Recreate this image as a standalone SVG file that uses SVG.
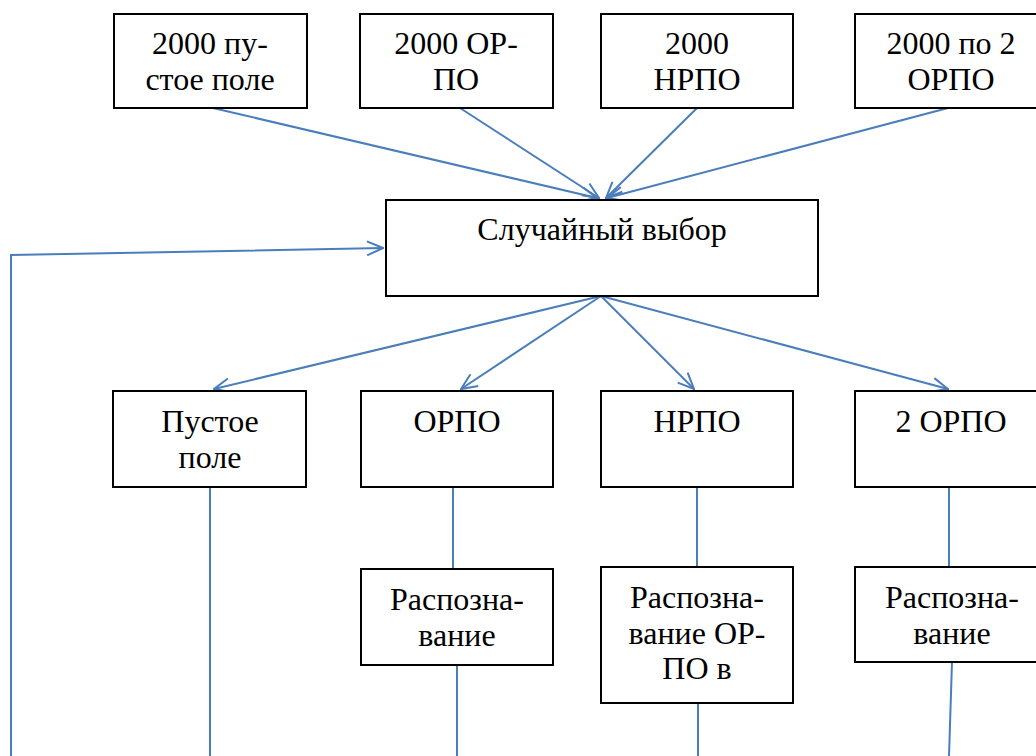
<svg xmlns="http://www.w3.org/2000/svg" width="1036" height="756" viewBox="0 0 1036 756">
<style>
.box{fill:#fff;stroke:#000;stroke-width:2}
.t{font-family:"Times New Roman","Liberation Serif","DejaVu Serif",serif;font-size:32px;fill:#000;text-anchor:middle}
.c{fill:none;stroke:#4a7ebb;stroke-width:2}
</style>
<defs>
<marker id="arr" viewBox="0 0 18 16" refX="17" refY="8" markerWidth="18" markerHeight="16" markerUnits="userSpaceOnUse" orient="auto">
<path d="M1,1 L17,8 L1,15" fill="none" stroke="#4a7ebb" stroke-width="2"/>
</marker>
</defs>
<rect width="1036" height="756" fill="#fff"/>
<g id="connectors">
<line class="c" x1="213" y1="108" x2="597" y2="198" marker-end="url(#arr)"/>
<line class="c" x1="460" y1="108" x2="599" y2="198" marker-end="url(#arr)"/>
<line class="c" x1="697" y1="108" x2="606" y2="198" marker-end="url(#arr)"/>
<line class="c" x1="948" y1="108" x2="607" y2="198" marker-end="url(#arr)"/>
<line class="c" x1="601" y1="296" x2="214" y2="389" marker-end="url(#arr)"/>
<line class="c" x1="601" y1="296" x2="461" y2="389" marker-end="url(#arr)"/>
<line class="c" x1="601" y1="296" x2="694" y2="389" marker-end="url(#arr)"/>
<line class="c" x1="601" y1="296" x2="948" y2="389" marker-end="url(#arr)"/>
<line class="c" x1="210" y1="487" x2="210" y2="756"/>
<line class="c" x1="453" y1="487" x2="453" y2="569"/>
<line class="c" x1="697" y1="487" x2="697" y2="567"/>
<line class="c" x1="949" y1="487" x2="949" y2="567"/>
<line class="c" x1="457" y1="665" x2="457" y2="756"/>
<line class="c" x1="698" y1="703" x2="698" y2="756"/>
<line class="c" x1="952" y1="662" x2="949" y2="756"/>
<polyline class="c" points="11,756 11,255 383,248" marker-end="url(#arr)"/>
</g>
<g id="n1"><rect class="box" x="114" y="14" width="193" height="94"/><text class="t" x="210" y="54">2000 пу-</text><text class="t" x="210" y="90">стое поле</text></g>
<g id="n2"><rect class="box" x="360" y="14" width="193" height="94"/><text class="t" x="456" y="54">2000 ОР-</text><text class="t" x="456" y="90">ПО</text></g>
<g id="n3"><rect class="box" x="601" y="14" width="192" height="94"/><text class="t" x="697" y="54">2000</text><text class="t" x="697" y="90">НРПО</text></g>
<g id="n4"><rect class="box" x="855" y="14" width="193" height="94"/><text class="t" x="951" y="54">2000 по 2</text><text class="t" x="951" y="90">ОРПО</text></g>
<g id="n5"><rect class="box" x="386" y="200" width="432" height="96"/><text class="t" x="602" y="240">Случайный выбор</text></g>
<g id="n6"><rect class="box" x="113" y="391" width="193" height="96"/><text class="t" x="210" y="432">Пустое</text><text class="t" x="210" y="468">поле</text></g>
<g id="n7"><rect class="box" x="361" y="391" width="192" height="96"/><text class="t" x="457" y="432">ОРПО</text></g>
<g id="n8"><rect class="box" x="601" y="391" width="192" height="96"/><text class="t" x="697" y="432">НРПО</text></g>
<g id="n9"><rect class="box" x="855" y="391" width="193" height="96"/><text class="t" x="951" y="432">2 ОРПО</text></g>
<g id="n10"><rect class="box" x="361" y="569" width="192" height="96"/><text class="t" x="457" y="610">Распозна-</text><text class="t" x="457" y="646">вание</text></g>
<g id="n11"><rect class="box" x="601" y="567" width="192" height="136"/><text class="t" x="697" y="608">Распозна-</text><text class="t" x="697" y="644">вание ОР-</text><text class="t" x="697" y="679">ПО в</text></g>
<g id="n12"><rect class="box" x="855" y="567" width="193" height="95"/><text class="t" x="952" y="608">Распозна-</text><text class="t" x="952" y="644">вание</text></g>
</svg>
